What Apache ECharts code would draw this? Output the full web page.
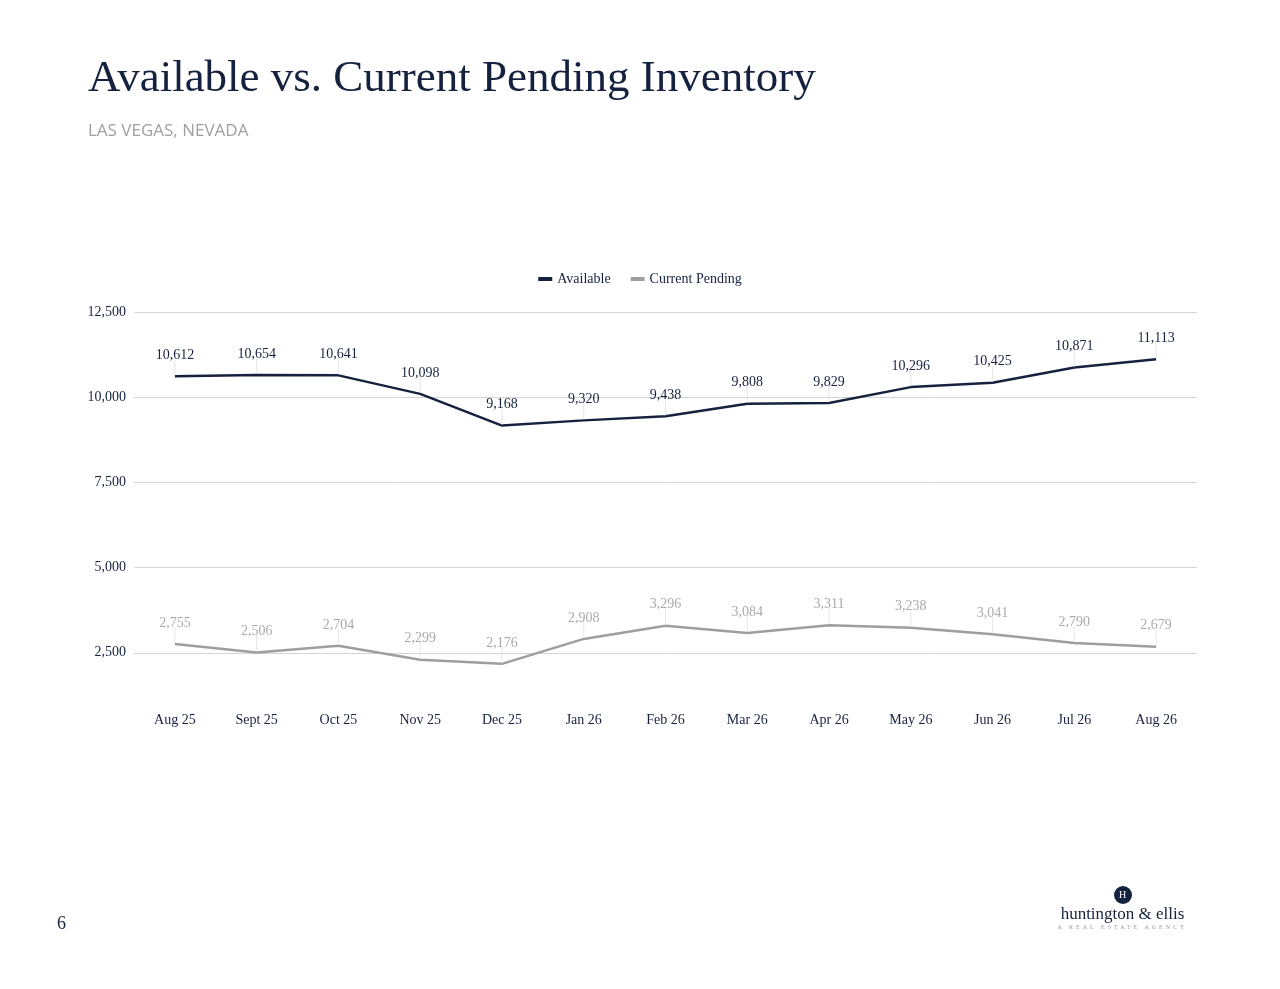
<!DOCTYPE html>
<html><head><meta charset="utf-8">
<script src="https://cdn.jsdelivr.net/npm/echarts@6/dist/echarts.min.js"></script>
<style>
body{margin:0;background:#fff;width:1280px;height:989px;position:relative;overflow:hidden}
#title{position:absolute;left:88px;top:50px;font-family:"Liberation Serif",serif;font-size:45px;color:#15223f}
#sub{position:absolute;left:88px;top:118px;font-family:"Open Sans",sans-serif;font-size:17px;color:#a0a0a0}
#pg{position:absolute;left:57px;top:913px;font-family:"Liberation Serif",serif;font-size:18px;color:#15223f}
#logo{position:absolute;left:1050px;top:886px;width:145px;text-align:center;font-family:"Liberation Serif",serif;color:#15223f}
#chart{position:absolute;left:0;top:0;width:1280px;height:989px}
</style></head><body>
<div id="chart"></div>
<div id="title">Available vs. Current Pending Inventory</div>
<div id="sub">LAS VEGAS, NEVADA</div>
<div id="pg">6</div>
<div id="logo"><div style="width:18px;height:18px;border-radius:9px;background:#15223f;color:#fff;font-size:10px;line-height:18px;margin:0 auto">H</div><div style="font-size:17px">huntington &amp; ellis</div><div style="font-size:6px;letter-spacing:3px;color:#999">A REAL ESTATE AGENCY</div></div>
<script>
const categories=["Aug 25","Sept 25","Oct 25","Nov 25","Dec 25","Jan 26","Feb 26","Mar 26","Apr 26","May 26","Jun 26","Jul 26","Aug 26"];
const available=[10612,10654,10641,10098,9168,9320,9438,9808,9829,10296,10425,10871,11113];
const pending=[2755,2506,2704,2299,2176,2908,3296,3084,3311,3238,3041,2790,2679];
const yTicks=[0,2500,5000,7500,10000,12500];
const font='"Liberation Serif",serif';
const c=echarts.init(document.getElementById('chart'));
const fmt=p=>p.value.toLocaleString('en-US');
function mk(name,data,color,labelColor){
 return {name,type:'line',data,symbol:'rect',symbolSize:[1,16],symbolOffset:[0,-9],
  lineStyle:{color,width:2.5},itemStyle:{color:'#e6e6e6'},emphasis:{disabled:true},
  label:{show:true,position:'top',distance:-3,fontFamily:font,fontSize:14,color:labelColor,formatter:fmt}};
}
c.setOption({
 animation:false,
 legend:{top:267,left:'center',itemWidth:14,itemHeight:4,itemGap:20,icon:'rect',textStyle:{fontFamily:font,fontSize:14,color:'#15223f'},
  data:[{name:'Available',itemStyle:{color:'#15223f'}},{name:'Current Pending',itemStyle:{color:'#9e9e9e'}}]},
 grid:{left:134,right:83,top:312,bottom:251},
 xAxis:{type:'category',data:categories,offset:-33,axisLine:{show:false},axisTick:{show:false},axisLabel:{fontFamily:font,fontSize:14,color:'#15223f'}},
 yAxis:{type:'value',min:yTicks[0],max:yTicks[yTicks.length-1],interval:2500,
  axisLabel:{showMinLabel:false,fontFamily:font,fontSize:14,color:'#15223f',margin:8,formatter:v=>v.toLocaleString('en-US')},
  splitLine:{lineStyle:{color:['rgba(0,0,0,0)','#d4d4d4','#d4d4d4','#d4d4d4','#d4d4d4','#d4d4d4'],width:1}}},
 series:[mk('Available',available,'#15223f','#15223f'),mk('Current Pending',pending,'#9e9e9e','#aaaaaa')]
});
</script></body></html>
